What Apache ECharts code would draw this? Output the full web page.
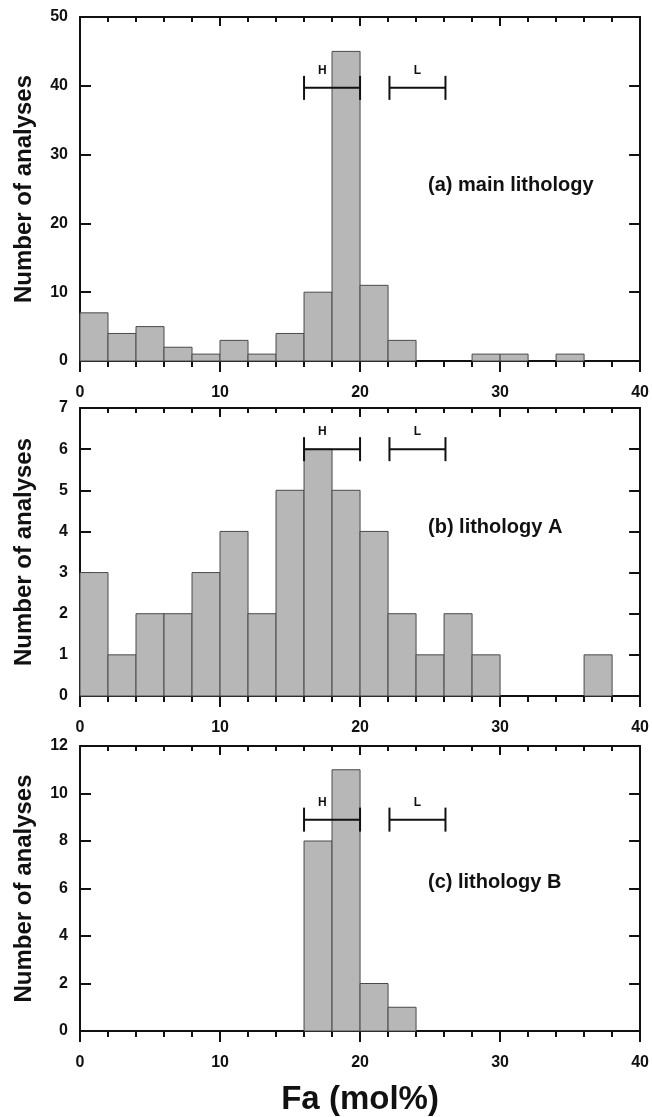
<!DOCTYPE html>
<html>
<head>
<meta charset="utf-8">
<script src="https://cdn.jsdelivr.net/npm/echarts@6/dist/echarts.min.js"></script>
<style>
html,body{margin:0;padding:0;background:#fff;}
#chart{width:652px;height:1117px;}
</style>
</head>
<body>
<div id="chart"></div>
<script>
// ---- data ----
const binStarts = [0,2,4,6,8,10,12,14,16,18,20,22,24,26,28,30,32,34,36,38];
const binWidth = 2;
const countsMain = [7,4,5,2,1,3,1,4,10,45,11,3,0,0,1,1,0,1,0,0];
const countsA    = [3,1,2,2,3,4,2,5,6,5,4,2,1,2,1,0,0,0,1,0];
const countsB    = [0,0,0,0,0,0,0,0,8,11,2,1,0,0,0,0,0,0,0,0];
const panelLabels = ['(a) main lithology', '(b) lithology A', '(c) lithology B'];
const yMaxes = [50, 7, 12];
const yIntervals = [10, 1, 2];
const xTicks = [0, 10, 20, 30, 40];
const rangeH = [16, 20];
const rangeL = [22.1, 26.1];
const rangeLevels = [39.7, 6.0, 8.9];
const rangeNames = ['H', 'L'];
const rangeNamePos = [17.3, 24.1];

// ---- layout / style ----
const FONT = 'Liberation Sans, Arial, sans-serif';
const INK = '#111';
const grids = [
  {left: 80, right: 11, top: 17, height: 344},
  {left: 80, right: 11, top: 408, height: 288},
  {left: 80, right: 11, top: 746, height: 287}
];
const labelPos = [[428, 175], [428, 517], [428, 872]];
const allCounts = [countsMain, countsA, countsB];

const xAxes = [], yAxes = [], series = [], graphics = [];
grids.forEach((g, i) => {
  const lineStyle = {color: INK, width: 2};
  xAxes.push({
    type: 'value', gridIndex: i, min: xTicks[0], max: xTicks[xTicks.length-1], interval: 10,
    position: 'bottom',
    axisLine: {show: true, onZero: false, lineStyle},
    axisTick: {show: true, inside: false, length: 11, lineStyle},
    minorTick: {show: true, splitNumber: 5, length: 6, lineStyle},
    splitLine: {show: false}, minorSplitLine: {show: false},
    axisLabel: {show: true, margin: 24, fontSize: 16, fontWeight: 'bold', color: INK, fontFamily: FONT},
    name: i === 2 ? 'Fa (mol%)' : '',
    nameLocation: 'middle', nameGap: 52,
    nameTextStyle: {fontSize: 33, fontWeight: 'bold', color: INK, fontFamily: FONT}
  });
  xAxes.push({
    type: 'value', gridIndex: i, min: 0, max: 40, interval: 10, position: 'top',
    axisLine: {show: true, onZero: false, lineStyle},
    axisTick: {show: true, inside: true, length: 9, lineStyle},
    minorTick: {show: true, splitNumber: 5, length: 5, lineStyle},
    splitLine: {show: false}, minorSplitLine: {show: false},
    axisLabel: {show: false}
  });
  yAxes.push({
    type: 'value', gridIndex: i, min: 0, max: yMaxes[i], interval: yIntervals[i], position: 'left',
    axisLine: {show: true, onZero: false, lineStyle},
    axisTick: {show: true, inside: true, length: 11, lineStyle},
    splitLine: {show: false},
    axisLabel: {show: true, margin: 12, fontSize: 16, fontWeight: 'bold', color: INK, fontFamily: FONT},
    name: 'Number of analyses', nameLocation: 'middle', nameRotate: 90, nameGap: 44,
    nameTextStyle: {fontSize: 24, fontWeight: 'bold', color: INK, fontFamily: FONT}
  });
  yAxes.push({
    type: 'value', gridIndex: i, min: 0, max: yMaxes[i], interval: yIntervals[i], position: 'right',
    axisLine: {show: true, onZero: false, lineStyle},
    axisTick: {show: true, inside: true, length: 11, lineStyle},
    splitLine: {show: false},
    axisLabel: {show: false}
  });

  // histogram bars
  const counts = allCounts[i];
  series.push({
    type: 'custom', xAxisIndex: i * 2, yAxisIndex: i * 2,
    data: binStarts.map((s, k) => [s, s + binWidth, counts[k]]),
    encode: {x: [0, 1], y: 2},
    renderItem: (params, api) => {
      const c = api.value(2);
      if (!c) return null;
      const p0 = api.coord([api.value(0), c]);
      const p1 = api.coord([api.value(1), 0]);
      return {
        type: 'rect',
        shape: {x: p0[0], y: p0[1], width: p1[0] - p0[0], height: p1[1] - p0[1]},
        style: {fill: '#b7b7b7', stroke: '#4a4a4a', lineWidth: 1}
      };
    },
    z: 2
  });

  // H / L range markers
  const ranges = [rangeH, rangeL];
  series.push({
    type: 'custom', xAxisIndex: i * 2, yAxisIndex: i * 2,
    data: ranges.map((r, k) => [r[0], r[1], rangeLevels[i], rangeNamePos[k], k]),
    encode: {x: [0, 1, 3], y: 2},
    renderItem: (params, api) => {
      const a = api.coord([api.value(0), api.value(2)]);
      const b = api.coord([api.value(1), api.value(2)]);
      const t = api.coord([api.value(3), api.value(2)]);
      const cap = 12;
      const ls = {stroke: INK, lineWidth: 2};
      return {
        type: 'group',
        children: [
          {type: 'line', shape: {x1: a[0], y1: a[1], x2: b[0], y2: b[1]}, style: ls},
          {type: 'line', shape: {x1: a[0], y1: a[1] - cap, x2: a[0], y2: a[1] + cap}, style: ls},
          {type: 'line', shape: {x1: b[0], y1: b[1] - cap, x2: b[0], y2: b[1] + cap}, style: ls},
          {type: 'text', x: t[0], y: t[1] - 17,
           style: {text: rangeNames[api.value(4)], fontSize: 12, fontWeight: 'bold', fill: INK,
                   fontFamily: FONT, align: 'center', verticalAlign: 'middle'}}
        ]
      };
    },
    z: 3
  });

  graphics.push({
    type: 'text', left: labelPos[i][0], top: labelPos[i][1],
    style: {text: panelLabels[i], fontSize: 20, fontWeight: 'bold', fill: INK, fontFamily: FONT}
  });
});

const chart = echarts.init(document.getElementById('chart'), null, {renderer: 'canvas'});
chart.setOption({
  animation: false,
  backgroundColor: '#fff',
  grid: grids,
  xAxis: xAxes,
  yAxis: yAxes,
  series: series,
  graphic: graphics
});
</script>
</body>
</html>
